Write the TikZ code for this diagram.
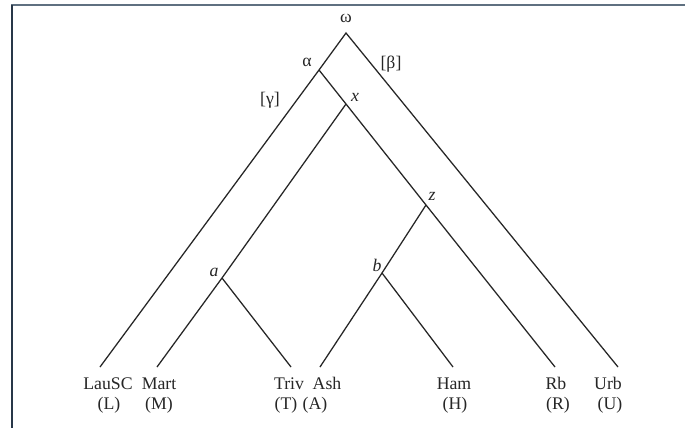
\documentclass[tikz,border=0pt]{standalone}
\usepackage{fontspec}
\setmainfont{Liberation Serif}
\begin{document}
\begin{tikzpicture}[x=0.75pt,y=-0.75pt,
  branch/.style={draw=black!85, line width=0.95pt},
  lbl/.style={inner sep=0pt, font=\fontsize{13.3}{15}\selectfont, text=black!85},
  leaf/.style={lbl, anchor=base}]
\useasboundingbox (0,0) rectangle (685,428);
\fill[white] (0,0) rectangle (685,428);
% frame
\draw[line width=1.5pt, draw={rgb,255:red,95;green,112;blue,128}] (11,5.5) -- (685,5.5);
\draw[line width=1.5pt, draw={rgb,255:red,40;green,55;blue,72}] (11.5,5) -- (11.5,428);
% vertices
\coordinate (om) at (346,33);
\coordinate (al) at (319,70);
\coordinate (x) at (346,104);
\coordinate (z) at (426,205);
\coordinate (a) at (222,278);
\coordinate (b) at (382,273);
% leaf ends
\coordinate (eL) at (100,367);
\coordinate (eM) at (157,367);
\coordinate (eT) at (291,367);
\coordinate (eA) at (320,367);
\coordinate (eH) at (453,367);
\coordinate (eR) at (555,367);
\coordinate (eU) at (618,367);
% branches
\draw[branch] (eL) -- (al) -- (om) -- (eU);
\draw[branch] (al) -- (x) -- (z) -- (eR);
\draw[branch] (x) -- (a) -- (eM);
\draw[branch] (a) -- (eT);
\draw[branch] (z) -- (b) -- (eA);
\draw[branch] (b) -- (eH);
% internal labels
\node[lbl] (lom) at (346,18) {ω};
\node[lbl] (lal) at (307,62) {α};
\node[lbl] (lbe) at (391,64) {[β]};
\node[lbl] (lga) at (270,100) {[γ]};
\node[lbl] (lx) at (355,97) {\textit{x}};
\node[lbl] (lz) at (432,196) {\textit{z}};
\node[lbl] (la) at (214,272) {\textit{a}};
\node[lbl] (lb) at (377,265) {\textit{b}};
% leaf labels
\node[leaf] (nL) at (108,389) {LauSC};
\node[leaf] (sL) at (109,409) {(L)};
\node[leaf] (nM) at (159,389) {Mart};
\node[leaf] (sM) at (159,409) {(M)};
\node[leaf] (nT) at (289,389) {Triv};
\node[leaf] (sT) at (286,409) {(T)};
\node[leaf] (nA) at (327,389) {Ash};
\node[leaf] (sA) at (315,409) {(A)};
\node[leaf] (nH) at (454,389) {Ham};
\node[leaf] (sH) at (455,409) {(H)};
\node[leaf] (nR) at (556,389) {Rb};
\node[leaf] (sR) at (558,409) {(R)};
\node[leaf] (nU) at (608,389) {Urb};
\node[leaf] (sU) at (610,409) {(U)};
\end{tikzpicture}
\end{document}
